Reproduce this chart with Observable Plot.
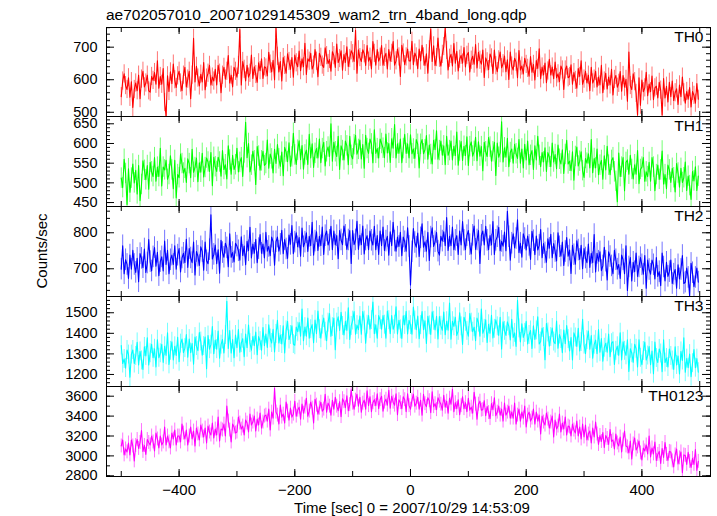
<!DOCTYPE html>
<html><head><meta charset="utf-8">
<script src="https://cdn.jsdelivr.net/npm/d3@7"></script>
<script src="https://cdn.jsdelivr.net/npm/@observablehq/plot@0.6"></script>
<style>
body{margin:0;background:#fff;font-family:"Liberation Sans",Arial,Helvetica,sans-serif;}
#chart{position:relative;width:717px;height:516px;overflow:hidden;background:#fff;}
.txt{position:absolute;white-space:nowrap;line-height:1;color:#000;font-family:"Liberation Sans",Arial,Helvetica,sans-serif;}
</style></head><body><div id="chart"></div>
<script>
// ---- data: light curves in 2.5 s bins starting at t = -500 s ----
const binStart = -500, binWidth = 2.5;
const title = "ae702057010_20071029145309_wam2_trn_4band_long.qdp";
const xLabel = "Time [sec] 0 = 2007/10/29 14:53:09";
const yLabel = "Counts/sec";
const panelNames = ["TH0", "TH1", "TH2", "TH3", "TH0123"];
const panelColors = ["#ff0000", "#00ff00", "#0000ff", "#00ffff", "#ff00ff"];
const xTickLabels = [-400, -200, 0, 200, 400];
// typical 1-sigma error of a bin, per panel (counts/sec)
const panelErrors = [28, 26, 30, 46, 70];

const th0 = [
548,596,618,582,570,606,546,594,515,570,590,566,614,542,602,626,578,590,614,566,
562,610,598,622,586,658,574,610,586,634,530,488,612,564,624,588,648,600,576,612,
626,590,566,614,638,578,602,626,542,614,727,593,641,605,581,617,593,653,569,605,
620,644,584,608,596,632,584,644,620,560,614,638,602,626,674,590,614,578,638,626,
608,644,754,584,656,632,596,644,608,620,676,604,640,616,592,652,628,664,604,640,
636,612,684,648,624,660,600,758,672,624,656,596,668,644,620,680,656,632,668,608,
676,652,640,688,628,664,640,712,616,664,657,681,633,645,693,657,609,681,669,645,
638,698,674,650,662,626,686,674,638,710,653,665,689,629,677,653,701,641,665,689,
680,656,752,620,692,668,656,692,680,644,705,657,669,633,717,681,645,693,657,669,
705,645,669,681,633,693,657,681,717,645,658,694,670,610,706,682,646,670,694,658,
658,718,646,682,670,634,694,658,706,670,644,680,620,692,756,656,704,644,668,728,
666,642,678,702,758,690,630,666,678,642,711,651,687,627,663,675,651,699,639,675,
684,624,660,672,648,708,636,684,660,648,691,607,667,655,631,679,667,619,691,643,
625,661,685,637,649,673,625,661,601,685,642,630,666,654,606,690,630,642,618,666,
647,635,611,671,623,647,599,659,635,695,603,639,615,651,591,627,663,615,639,603,
654,606,618,594,642,630,570,630,642,606,610,646,586,622,598,574,634,610,658,586,
602,626,590,614,566,638,590,602,626,578,608,584,644,560,596,620,572,608,584,632,
553,601,613,577,589,625,565,613,577,601,534,685,582,570,618,594,558,492,606,522,
599,563,575,623,551,587,563,611,539,575,580,544,592,568,492,604,544,580,532,592,
548,596,536,560,572,524,584,548,608,560,528,564,540,576,516,564,552,528,588,540];

const th1 = [
512,488,560,524,445,536,476,512,548,500,532,472,544,455,496,556,532,508,544,484,
552,528,516,564,504,540,516,588,492,540,533,557,509,521,569,533,485,557,462,521,
513,573,549,525,537,501,561,549,513,585,527,539,563,503,551,527,575,515,539,563,
553,529,577,493,565,541,529,565,553,517,582,534,546,510,594,558,522,570,534,546,
588,528,552,564,516,576,654,564,600,528,545,580,556,496,592,568,532,556,580,544,
549,609,537,573,561,525,585,549,597,561,542,578,518,590,578,554,602,542,566,626,
571,547,583,607,559,595,535,571,583,547,623,563,599,539,575,587,563,611,551,587,
603,543,579,591,567,650,555,603,579,567,618,534,594,582,558,606,594,546,618,570,
561,597,621,573,585,609,561,597,537,621,587,575,611,599,551,635,575,587,563,611,
600,588,564,624,576,600,552,612,588,648,563,599,575,611,551,587,623,575,599,563,
622,574,586,562,610,598,538,598,610,574,584,620,560,596,572,548,608,584,632,560,
582,606,570,594,546,618,570,582,606,558,593,569,629,545,581,605,557,593,569,617,
544,592,604,568,580,616,556,604,568,592,531,603,579,567,615,591,555,579,603,519,
601,565,577,655,553,589,565,613,541,577,586,550,598,574,562,610,550,586,538,598,
558,606,546,570,582,534,594,558,618,570,541,577,553,589,529,577,565,541,601,553,
572,536,596,560,548,584,524,572,608,548,555,531,579,507,567,591,543,555,579,531,
514,562,550,574,538,610,526,562,538,586,521,545,557,509,569,533,593,545,521,557,
564,528,504,452,576,516,540,564,480,552,558,522,570,534,510,546,522,582,498,534,
540,564,504,528,516,552,504,564,540,480,521,545,509,533,581,497,521,485,545,533,
501,537,513,477,549,525,489,537,501,513,553,481,517,493,458,529,505,541,481,517];

const th2 = [
699,764,686,725,712,673,738,699,751,712,690,729,664,742,729,703,755,690,716,781,
720,694,733,759,707,746,681,720,733,694,777,712,751,686,725,738,712,764,699,738,
756,691,730,743,717,782,704,756,730,717,774,683,748,735,709,761,748,696,774,722,
714,753,850,727,740,766,714,753,688,779,745,732,771,758,706,797,732,745,719,771,
763,750,724,789,737,763,711,776,750,815,730,769,743,782,717,756,795,743,769,730,
801,749,762,736,788,775,710,775,788,749,768,807,742,781,755,729,794,768,820,742,
774,800,761,787,735,813,761,774,800,748,790,764,829,738,777,803,751,790,764,816,
740,792,805,766,779,818,753,805,766,792,728,806,780,767,819,793,754,780,806,715,
806,767,780,832,754,793,767,819,741,780,792,753,805,779,766,818,753,792,740,805,
764,816,751,777,790,738,803,764,829,777,749,788,762,801,736,788,775,749,814,762,
655,747,812,773,760,799,734,786,825,760,775,749,801,723,788,814,762,775,801,749,
738,790,777,803,764,842,751,790,764,816,753,779,792,740,805,766,831,779,753,792,
806,767,741,793,819,754,780,806,715,793,805,766,818,779,753,792,766,831,740,779,
789,815,750,776,763,802,750,860,789,724,771,797,758,784,836,745,771,732,797,784,
752,791,765,726,804,778,739,791,752,765,809,731,770,744,718,783,757,796,731,770,
748,722,800,761,735,774,709,748,787,735,752,687,765,739,713,778,752,726,765,700,
756,730,717,769,704,743,717,795,691,743,721,747,695,708,760,721,669,747,734,708,
686,751,725,699,712,673,738,725,686,764,640,705,731,666,718,692,744,679,705,731,
711,685,737,646,724,698,685,724,711,672,731,679,692,653,744,705,666,718,679,692,
724,659,685,698,646,711,672,698,737,659,663,702,676,625,715,689,650,676,702,663];

const th3 = [
1341,1253,1275,1231,1319,1297,1187,1297,1319,1253,1290,1356,1246,1312,1268,1224,1334,1290,1378,1246,
1303,1347,1281,1325,1237,1369,1281,1303,1347,1259,1337,1293,1403,1249,1315,1359,1271,1337,1293,1381,
1262,1350,1372,1306,1328,1394,1284,1372,1306,1350,1250,1382,1338,1316,1404,1360,1294,1338,1382,1228,
1389,1323,1345,1433,1301,1367,1323,1411,1279,1345,1370,1304,1392,1556,1326,1414,1304,1370,1282,1392,
1330,1418,1308,1352,1374,1286,1396,1330,1440,1352,1318,1384,1340,1406,1296,1384,1362,1318,1428,1340,
1397,1331,1441,1375,1353,1419,1309,1397,1463,1353,1392,1348,1436,1304,1414,1458,1370,1392,1436,1348,
1342,1430,1408,1452,1386,1518,1364,1430,1386,1474,1376,1420,1442,1354,1464,1398,1508,1420,1376,1442,
1474,1408,1364,1452,1496,1386,1430,1474,1320,1452,1480,1414,1502,1436,1392,1458,1414,1524,1370,1436,
1462,1506,1396,1440,1418,1484,1396,1506,1462,1352,1442,1486,1420,1464,1552,1398,1442,1376,1486,1464,
1420,1486,1442,1376,1508,1464,1398,1486,1420,1442,1529,1397,1463,1419,1375,1485,1441,1507,1397,1463,
1440,1396,1528,1462,1418,1484,1374,1440,1506,1418,1461,1351,1483,1439,1395,1505,1461,1417,1483,1373,
1481,1437,1415,1503,1393,1459,1415,1547,1371,1459,1434,1478,1390,1412,1500,1434,1346,1478,1456,1412,
1386,1496,1452,1408,1430,1364,1474,1452,1386,1518,1400,1422,1466,1356,1444,1400,1488,1378,1422,1466,
1434,1390,1478,1324,1456,1412,1390,1456,1434,1368,1468,1380,1402,1336,1560,1424,1358,1446,1380,1402,
1458,1348,1392,1414,1326,1436,1370,1414,1480,1348,1360,1426,1382,1272,1448,1404,1338,1382,1426,1360,
1350,1460,1328,1394,1372,1306,1416,1350,1438,1372,1314,1380,1270,1402,1380,1336,1424,1314,1358,1468,
1345,1301,1367,1411,1323,1389,1279,1345,1367,1301,1418,1308,1374,1264,1330,1352,1308,1396,1286,1352,
1359,1249,1315,1337,1293,1403,1271,1359,1315,1293,1369,1215,1325,1303,1259,1347,1325,1237,1369,1281,
1248,1314,1358,1270,1292,1336,1248,1314,1204,1358,1280,1258,1324,1302,1214,1368,1258,1280,1236,1324,
1290,1268,1224,1334,1246,1290,1202,1312,1268,1378,1211,1277,1233,1299,1189,1255,1321,1233,1277,1211];

const th0123 = [
3100,3160,3010,3070,3040,3130,3010,3160,3100,2950,3105,3165,3075,3135,3255,3045,3105,3015,3165,3135,
3110,3200,3140,3050,3230,3170,3080,3200,3110,3140,3290,3110,3200,3140,3080,3230,3170,3260,3110,3200,
3200,3140,3320,3230,3170,3260,3110,3200,3290,3170,3250,3100,3280,3220,3160,3310,3250,3190,3280,3130,
3300,3240,3210,3330,3180,3270,3210,3390,3150,3270,3260,3320,3200,3500,3350,3260,3140,3320,3290,3230,
3240,3390,3330,3270,3300,3210,3360,3330,3240,3420,3310,3340,3400,3250,3370,3310,3430,3280,3340,3400,
3410,3350,3470,3260,3440,3380,3680,3440,3410,3320,3510,3390,3420,3330,3540,3450,3360,3480,3390,3420,
3550,3400,3460,3490,3370,3520,3430,3490,3580,3400,3450,3540,3480,3330,3570,3510,3420,3480,3540,3450,
3470,3620,3440,3530,3500,3410,3560,3470,3590,3500,3455,3545,3395,3575,3545,3485,3605,3455,3515,3665,
3530,3470,3560,3620,3500,3590,3440,3530,3560,3470,3655,3505,3595,3445,3535,3565,3505,3625,3475,3565,
3600,3450,3540,3570,3510,3660,3480,3600,3540,3510,3625,3415,3565,3535,3475,3595,3565,3445,3625,3505,
3470,3560,3620,3500,3530,3590,3470,3560,3410,3620,3525,3495,3585,3555,3435,3645,3495,3525,3465,3585,
3550,3520,3460,3610,3490,3550,3430,3580,3520,3670,3445,3535,3475,3565,3415,3505,3595,3475,3535,3445,
3580,3460,3490,3430,3640,3520,3370,3520,3550,3460,3465,3555,3405,3495,3435,3375,3525,3465,3585,3405,
3440,3500,3410,3470,3350,3530,3410,3440,3500,3380,3440,3380,3530,3320,3410,3470,3350,3440,3380,3500,
3290,3410,3440,3350,3380,3470,3320,3440,3350,3410,3220,3400,3340,3310,3430,3370,3280,3340,3400,3190,
3360,3270,3300,3420,3240,3330,3270,3390,3210,3300,3290,3200,3320,3260,3230,3350,3200,3290,3170,3320,
3190,3310,3160,3220,3250,3130,3280,3190,3340,3220,3115,3205,3145,3235,3085,3205,3175,3115,3265,3145,
3160,3070,3220,3130,3100,3190,3040,3160,3250,3100,3090,3030,3150,2970,3120,3180,3060,3090,3150,3030,
2960,3080,3050,3110,3020,3200,2990,3080,3020,3140,2955,3015,3045,2925,3075,2985,3135,3015,2955,3045,
3040,2950,2890,3010,3070,2920,2980,3040,2830,3010,3005,2915,3035,2945,2885,2975,2915,3065,2855,2945];

const seriesValues = [th0, th1, th2, th3, th0123];
const yTickLabels = [[500, 600, 700], [450, 500, 550, 600, 650], [700, 800], [1200, 1300, 1400, 1500], [2800, 3000, 3200, 3400, 3600]];

// ---- layout / scale settings ----
const yDomains = [[487, 760.5], [440, 668.5], [623, 873], [1141.5, 1579], [2793, 3697.5]];
const yMinorStep = [20, 10, 20, 20, 100];
const xDomain = [-525.5, 518.6];
const W = 717, ML = 106, MR = 7, FW = W - ML - MR;
const panelTops = [27, 116, 206, 296, 386], panelBottom = 476;
const PAD = 3, BOTTOM_EXTRA = 32;
const FONT = "Liberation Sans, Arial, Helvetica, sans-serif";
const fmt = d => d < 0 ? "\u2212" + Math.abs(d) : String(d);

const chart = document.getElementById("chart");
const xMinor = d3.range(-500, 501, 100);

seriesValues.forEach((vals, i) => {
  const last = i === seriesValues.length - 1;
  const top = panelTops[i];
  const ph = (i + 1 < panelTops.length ? panelTops[i + 1] : panelBottom) - top;
  const err = panelErrors[i];
  const data = vals.map((v, j) => ({t: binStart + j * binWidth, v, lo: v - err, hi: v + err}));
  const [y0, y1] = yDomains[i];
  const yMinor = d3.range(Math.ceil(y0 / yMinorStep[i]) * yMinorStep[i], y1, yMinorStep[i]);
  const yMajor = yTickLabels[i];
  const h = ph + PAD * 2 + (last ? BOTTOM_EXTRA : 0);
  const marks = [
    Plot.ruleX(data, {x: "t", y1: "lo", y2: "hi", stroke: panelColors[i], strokeOpacity: 0.55, strokeWidth: 1, clip: true}),
    Plot.lineY(data, {x: "t", y: "v", stroke: panelColors[i], strokeWidth: 1.1, clip: true}),
    Plot.tickY(yMinor, {y: d => d, insetRight: FW - 4, stroke: "black"}),
    Plot.tickY(yMinor, {y: d => d, insetLeft: FW - 4, stroke: "black"}),
    Plot.tickY(yMajor, {y: d => d, insetRight: FW - 8, stroke: "black"}),
    Plot.tickY(yMajor, {y: d => d, insetLeft: FW - 8, stroke: "black"}),
    Plot.tickX(xMinor, {x: d => d, insetBottom: ph - 5, stroke: "black"}),
    Plot.tickX(xMinor, {x: d => d, insetTop: ph - 5, stroke: "black"}),
    Plot.tickX(xTickLabels, {x: d => d, insetBottom: ph - 7, stroke: "black"}),
    Plot.tickX(xTickLabels, {x: d => d, insetTop: ph - 7, stroke: "black"}),
    Plot.axisY({ticks: yMajor, anchor: "left", tickSize: 0, tickPadding: 9, label: null, fontSize: 14.5, tickFormat: fmt}),
    Plot.text([panelNames[i]], {frameAnchor: "top-right", text: d => d, dx: -7, dy: 3, lineAnchor: "top", textAnchor: "end", fontSize: 15.5, fill: "black"}),
    Plot.frame({stroke: "black", strokeWidth: 1})
  ];
  if (last) marks.push(Plot.axisX({ticks: xTickLabels, anchor: "bottom", tickSize: 0, tickPadding: 8, label: null, fontSize: 15, tickFormat: fmt}));
  const p = Plot.plot({
    width: W, height: h,
    marginLeft: ML, marginRight: MR, marginTop: PAD, marginBottom: PAD + (last ? BOTTOM_EXTRA : 0),
    x: {domain: xDomain, axis: last ? undefined : null},
    y: {domain: [y0, y1]},
    style: {background: "transparent", overflow: "visible", fontFamily: FONT, fontSize: "15px", color: "black"},
    marks
  });
  p.style.position = "absolute";
  p.style.left = "0px";
  p.style.top = (top - PAD) + "px";
  chart.appendChild(p);
});

function addText(str, css) {
  const d = document.createElement("div");
  d.className = "txt";
  d.textContent = str;
  Object.assign(d.style, css);
  chart.appendChild(d);
}
addText(title, {left: "106px", top: "7px", fontSize: "15.5px"});
addText(xLabel, {left: "412px", top: "500px", fontSize: "15px", transform: "translateX(-50%)"});
addText(yLabel, {left: "41px", top: "251px", fontSize: "15px", transform: "translate(-50%,-50%) rotate(-90deg)"});
</script></body></html>
